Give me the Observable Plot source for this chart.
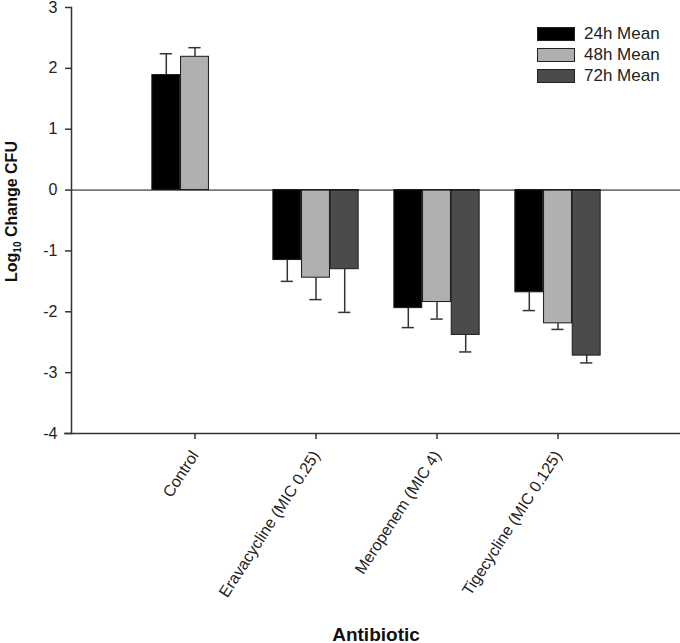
<!DOCTYPE html>
<html>
<head>
<meta charset="utf-8">
<script src="https://cdn.jsdelivr.net/npm/d3@7"></script>
<script src="https://cdn.jsdelivr.net/npm/@observablehq/plot@0.6"></script>
<style>
  body { margin: 0; background: #fff; }
  #wrap { position: relative; width: 680px; height: 643px; font-family: "Liberation Sans", Arial, sans-serif; }
  #legend { position: absolute; left: 537px; top: 23px; }
  .row { display: flex; align-items: center; height: 21px; }
  .sw { width: 36px; height: 12px; border: 1px solid #222; box-sizing: content-box; margin-right: 9px; }
  .lab { font-size: 17px; color: #222; line-height: 17px; }
</style>
</head>
<body>
<div id="wrap"></div>
<script>
const categories = ["Control", "Eravacycline (MIC 0.25)", "Meropenem (MIC 4)", "Tigecycline (MIC 0.125)"];
const seriesNames = ["24h Mean", "48h Mean", "72h Mean"];
const seriesColors = ["#000000", "#b0b0b0", "#4b4b4b"];
const mean24 = [1.89, -1.15, -1.94, -1.68];
const mean48 = [2.19, -1.44, -1.84, -2.19];
const mean72 = [null, -1.30, -2.38, -2.72];
const err24 = [0.35, 0.35, 0.32, 0.30];
const err48 = [0.15, 0.36, 0.28, 0.10];
const err72 = [null, 0.71, 0.28, 0.12];
const yTicks = [-4, -3, -2, -1, 0, 1, 2, 3];

const means = [mean24, mean48, mean72];
const errs = [err24, err48, err72];
const rows = [];
seriesNames.forEach((s, si) => {
  categories.forEach((c, ci) => {
    const m = means[si][ci];
    if (m == null) return;
    const e = errs[si][ci];
    rows.push({category: c, series: s, si, mean: m, end: m >= 0 ? m + e : m - e});
  });
});

const barW = 28.7;
const step = 609 / 5;
const barInset = (step - barW) / 2;
const capInset = (step - 13) / 2;

const marks = [];
seriesNames.forEach((s, si) => {
  const data = rows.filter(d => d.series === s);
  const dx = (si - 1) * barW;
  marks.push(Plot.barY(data, {x: "category", y: "mean", fill: seriesColors[si], stroke: "#1a1a1a", strokeWidth: 1, insetLeft: barInset, insetRight: barInset, dx}));
});
seriesNames.forEach((s, si) => {
  const data = rows.filter(d => d.series === s);
  const dx = (si - 1) * barW;
  marks.push(Plot.ruleX(data, {x: "category", y1: "mean", y2: "end", stroke: "#333", strokeWidth: 1.5, dx}));
  marks.push(Plot.tickY(data, {x: "category", y: "end", stroke: "#333", strokeWidth: 1.5, insetLeft: capInset, insetRight: capInset, dx}));
});

const chart = Plot.plot({
  width: 680,
  height: 643,
  marginLeft: 71,
  marginRight: 0,
  marginTop: 7,
  marginBottom: 210,
  style: {fontFamily: "Liberation Sans, Arial, sans-serif", color: "#222", background: "#fff", overflow: "visible"},
  x: {type: "band", domain: categories, paddingInner: 0, paddingOuter: 0.5, axis: null},
  y: {domain: [-4, 3], axis: null},
  marks: [
    ...marks,
    Plot.ruleY([0], {stroke: "#111", strokeWidth: 1}),
    Plot.ruleY([-4], {stroke: "#333", strokeWidth: 1.5, insetLeft: -7}),
    Plot.frame({anchor: "left", stroke: "#333", strokeWidth: 1.5}),
    Plot.axisY({ticks: yTicks, tickSize: 6, tickPadding: 8, fontSize: 16, label: null, stroke: "#333", strokeWidth: 1.5, tickFormat: d => String(d).replace("−", "-")}),
    Plot.axisX({tickSize: 6, tickFormat: () => "", label: null, stroke: "#333", strokeWidth: 1.5}),
    Plot.axisX({tickRotate: -57, tickSize: 0, tickPadding: 19, dx: 0, fontSize: 16, label: null}),
    Plot.text(["Antibiotic"], {frameAnchor: "bottom", dy: 207, lineAnchor: "bottom", textAnchor: "middle", fontSize: 19, fontWeight: "bold", fill: "#111"}),
    Plot.text(["Log10 Change CFU"], {frameAnchor: "left", dx: -60, dy: -9, rotate: -90, lineAnchor: "middle", textAnchor: "middle", fontSize: 16, fontWeight: "bold", fill: "#111"})
  ]
});

// subscript the "10" of Log10
d3.select(chart).selectAll("text").each(function() {
  if (this.textContent === "Log10 Change CFU") {
    const t = d3.select(this);
    t.text(null);
    t.append("tspan").text("Log");
    t.append("tspan").attr("font-size", 10).attr("baseline-shift", -4).text("10");
    t.append("tspan").text(" Change CFU");
  }
});

const wrap = document.getElementById("wrap");
wrap.appendChild(chart);
const legend = document.createElement("div");
legend.id = "legend";
seriesNames.forEach((s, si) => {
  const r = document.createElement("div");
  r.className = "row";
  r.innerHTML = `<div class="sw" style="background:${seriesColors[si]}"></div><div class="lab">${s}</div>`;
  legend.appendChild(r);
});
wrap.appendChild(legend);
</script>
</body>
</html>
